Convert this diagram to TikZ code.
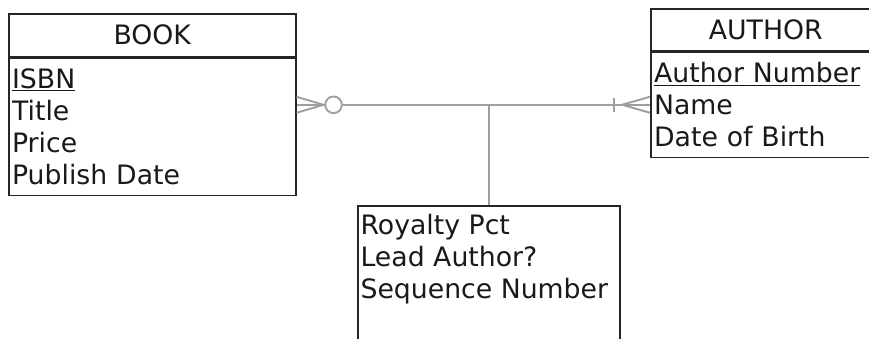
\documentclass[tikz,border=0pt]{standalone}
\usepackage{fontspec}
\setmainfont{DejaVu Sans}
\usetikzlibrary{positioning, calc}
\newcommand{\erfont}{\fontsize{22.8}{27.3}\selectfont}

\begin{document}
\begin{tikzpicture}[x = 0.03cm, y = -0.03cm,
		box/.style = { draw = black!85, line width = 1.3pt, rectangle, inner sep = 0pt, text = black!90 },
		title/.style = { box, font = \erfont },
		attrs/.style = { box, align = left, inner xsep = 0.1cm, font = \erfont },
		link/.style = { draw = black!38, line width = 1.6pt }]
		\useasboundingbox (0,0) rectangle (869,339);
		\clip (0,0) rectangle (869,339);

		% entities
		\node [title, minimum width = 8.61cm, minimum height = 1.29cm, anchor = north west] (book) at (8,13) {BOOK};
		\node [attrs, text width = 8.41cm, minimum height = 4.11cm, below = 0pt of book] (bookattr) {\underline{ISBN}\\Title\\Price\\Publish Date};

		\node [title, minimum width = 6.9cm, minimum height = 1.26cm, anchor = north west] (author) at (650,8) {AUTHOR};
		\node [attrs, text width = 6.7cm, minimum height = 3.15cm, below = 0pt of author] (authorattr) {\underline{Author Number}\\Name\\Date of Birth};

		% associative entity
		\node [box, minimum width = 7.86cm, minimum height = 4.8cm, anchor = north west] (rel) at (357,205) {};
		\node [align = left, inner sep = 0.1cm, font = \erfont, text = black!90, below right = 0.17cm and 0cm of rel.north west] (relattr) {Royalty Pct\\Lead Author?\\Sequence Number};

		% relationship line
		\coordinate (bkend) at (bookattr.east |- authorattr.west);
		\coordinate (auend) at (authorattr.west);
		\coordinate (bkfoot) at ($(bkend)+(27,0)$);
		\coordinate (aufoot) at ($(auend)+(-28,0)$);
		\node [circle, link, fill = white, inner sep = 0pt, minimum size = 0.5cm] (opt) at ($(bkend)+(37,0)$) {};

		\draw [link] ($(bkend)+(0,-8)$) -- (bkfoot) -- ($(bkend)+(0,8)$);
		\draw [link] (bkend) -- (opt.west);
		\draw [link] (opt.east) -- (auend);
		\draw [link] ($(auend)+(0,-8)$) -- (aufoot) -- ($(auend)+(0,8)$);
		\draw [link] ($(auend)+(-36,-7)$) -- ($(auend)+(-36,7)$);
		\draw [link] (rel.north) -- (rel.north |- bkend);
	\end{tikzpicture}
\end{document}
